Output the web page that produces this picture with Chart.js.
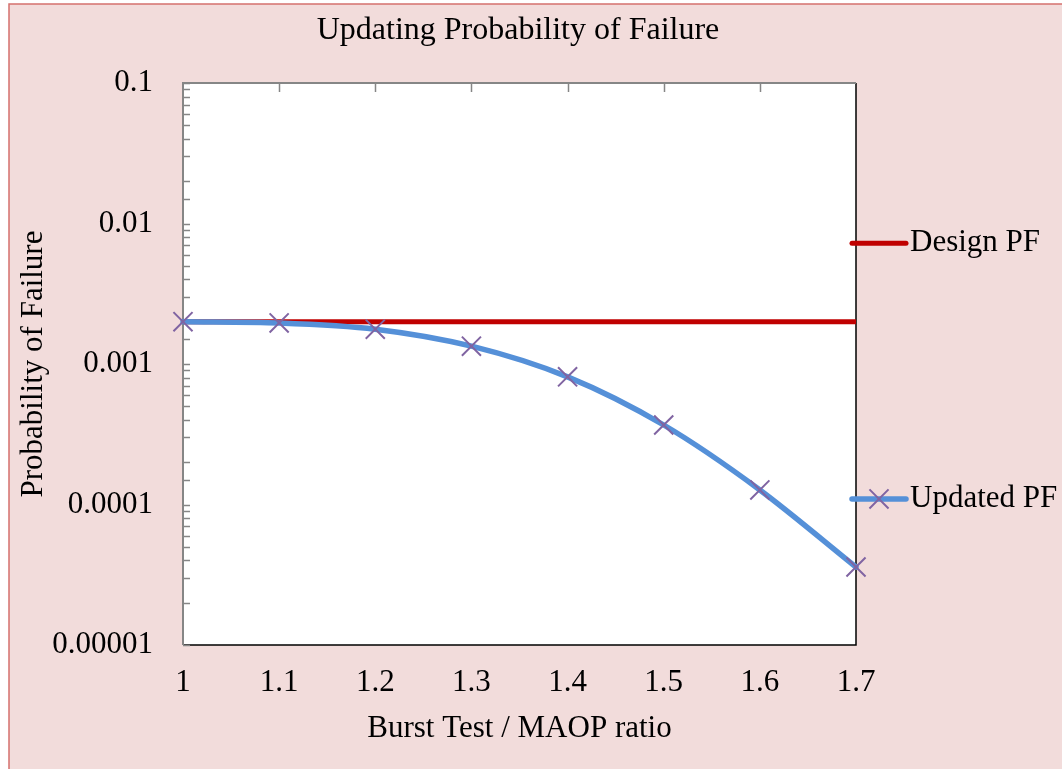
<!DOCTYPE html>
<html>
<head>
<meta charset="utf-8">
<title>Updating Probability of Failure</title>
<script src="https://cdn.jsdelivr.net/npm/chart.js@4/dist/chart.umd.min.js"></script>
<style>
    html, body { margin: 0; padding: 0; background: #ffffff; }
    #wrap { width: 1062px; height: 769px; }
</style>
</head>
<body>
<div id="wrap"><canvas id="pfChart" width="1062" height="769"></canvas></div>
<script>
// Burst test / MAOP ratio (x categories)
const ratios = ['1', '1.1', '1.2', '1.3', '1.4', '1.5', '1.6', '1.7'];
// Design probability of failure (flat)
const designPF = [0.002, 0.002, 0.002, 0.002, 0.002, 0.002, 0.002, 0.002];
// Updated probability of failure after the burst test
const updatedPF = [0.002, 0.00196, 0.00177, 0.00134, 0.00081, 0.000368, 0.000127, 0.0000359];
// Decade labels on the log axis
const yTickLabels = ['0.00001', '0.0001', '0.001', '0.01', '0.1'];
const yMin = 0.00001;
const yMax = 0.1;

const FONT = 'Liberation Serif, Times New Roman, serif';
const PINK = '#f2dcdb';
const AXIS_GREY = '#868686';

/**
 * Page background + outer chart border (Excel style)
 */
const backgroundPlugin = {
    id: 'bgFrame',
    beforeDraw(chart) {
        const ctx = chart.ctx;
        ctx.save();
        ctx.fillStyle = '#ffffff';
        ctx.fillRect(0, 0, chart.width, chart.height);
        ctx.fillStyle = PINK;
        ctx.fillRect(9, 4, chart.width, chart.height);
        ctx.strokeStyle = '#d5706d';
        ctx.lineWidth = 1.5;
        ctx.strokeRect(9, 4, chart.width + 10, chart.height + 10);
        ctx.restore();
    }
};

/**
 * Plot area: white fill, black border, grey axes with inward ticks
 */
const plotFramePlugin = {
    id: 'plotFrame',
    beforeDatasetsDraw(chart) {
        const ctx = chart.ctx;
        const { left, top, right, bottom } = chart.chartArea;
        const x = chart.scales.x;
        const y = chart.scales.y;
        ctx.save();
        ctx.fillStyle = '#ffffff';
        ctx.fillRect(left, top, right - left, bottom - top);

        ctx.strokeStyle = '#000000';
        ctx.lineWidth = 1.5;
        ctx.beginPath();
        ctx.moveTo(left, bottom);
        ctx.lineTo(right, bottom);
        ctx.lineTo(right, top);
        ctx.stroke();

        // grey value axis with minor ticks pointing in
        ctx.strokeStyle = AXIS_GREY;
        ctx.lineWidth = 1.5;
        ctx.beginPath();
        y.ticks.forEach(t => {
            const py = Math.round(y.getPixelForValue(t.value)) + 0.5;
            ctx.moveTo(left, py);
            ctx.lineTo(left + 7, py);
        });
        ctx.stroke();

        // grey category axis along the top
        ctx.beginPath();
        x.ticks.forEach((t, i) => {
            if (i === 0 || i === x.ticks.length - 1) return;
            const px = Math.round(x.getPixelForValue(i)) + 0.5;
            ctx.moveTo(px, top);
            ctx.lineTo(px, top + 9);
        });
        ctx.stroke();

        ctx.lineWidth = 2;
        ctx.beginPath();
        ctx.moveTo(left, bottom);
        ctx.lineTo(left, top);
        ctx.lineTo(right, top);
        ctx.stroke();
        ctx.restore();
    }
};

/**
 * Legend entries sitting right of the plot, like the Excel layout
 */
const sideLegendPlugin = {
    id: 'sideLegend',
    afterDraw(chart) {
        const ctx = chart.ctx;
        const area = chart.chartArea;
        const h = area.bottom - area.top;
        const rows = [area.top + h * 0.285, area.top + h * 0.74];
        ctx.save();
        chart.data.datasets.forEach(ds => {
            const yPos = rows[ds.legendRow];
            const x0 = area.right - 4;
            const x1 = area.right + 50;
            ctx.strokeStyle = ds.borderColor;
            ctx.lineWidth = ds.borderWidth;
            ctx.lineCap = 'round';
            ctx.beginPath();
            ctx.moveTo(x0, yPos);
            ctx.lineTo(x1, yPos);
            ctx.stroke();
            if (ds.pointRadius > 0) {
                // same X marker as the series
                ctx.strokeStyle = ds.pointBorderColor;
                ctx.lineWidth = ds.pointBorderWidth;
                ctx.lineCap = 'butt';
                const r = ds.pointRadius * Math.SQRT1_2;
                const cx = (x0 + x1) / 2;
                ctx.beginPath();
                ctx.moveTo(cx - r, yPos - r);
                ctx.lineTo(cx + r, yPos + r);
                ctx.moveTo(cx - r, yPos + r);
                ctx.lineTo(cx + r, yPos - r);
                ctx.stroke();
            }
            ctx.fillStyle = '#000000';
            ctx.font = '31px ' + FONT;
            ctx.textAlign = 'left';
            ctx.textBaseline = 'middle';
            ctx.fillText(ds.label, x1 + 4, yPos);
        });
        ctx.restore();
    }
};

const ctx = document.getElementById('pfChart');

const pfChart = new Chart(ctx, {
    type: 'line',
    data: {
        labels: ratios,
        datasets: [
            {
                label: 'Design PF',
                data: designPF,
                borderColor: '#c00000',
                borderWidth: 5,
                pointRadius: 0,
                tension: 0,
                order: 1,
                legendRow: 0
            },
            {
                label: 'Updated PF',
                data: updatedPF,
                borderColor: '#5590d8',
                borderWidth: 5.5,
                borderCapStyle: 'round',
                tension: 0.3,
                pointStyle: 'crossRot',
                pointRadius: 13.5,
                pointBorderColor: '#8064a2',
                pointBorderWidth: 2,
                pointBackgroundColor: 'transparent',
                clip: false,
                order: 0,
                legendRow: 1
            }
        ]
    },
    options: {
        responsive: false,
        animation: false,
        events: [],
        layout: {
            padding: { left: 0, right: 26, top: 0, bottom: 0 }
        },
        plugins: {
            legend: { display: false },
            tooltip: { enabled: false },
            title: {
                display: true,
                text: 'Updating Probability of Failure',
                color: '#000000',
                font: { family: FONT, size: 32, weight: 'normal' },
                padding: { top: 11, bottom: 33.6 }
            }
        },
        scales: {
            x: {
                type: 'category',
                offset: false,
                grid: { display: false, drawTicks: false },
                border: { display: false },
                ticks: {
                    color: '#000000',
                    font: { family: FONT, size: 31 },
                    padding: 19,
                    autoSkip: false,
                    maxRotation: 0
                },
                title: {
                    display: true,
                    text: 'Burst Test / MAOP ratio',
                    color: '#000000',
                    font: { family: FONT, size: 31 },
                    padding: { top: 22, bottom: 22 }
                },
                afterFit(scale) { scale.height = 124; }
            },
            y: {
                type: 'logarithmic',
                min: yMin,
                max: yMax,
                grid: { display: false, drawTicks: false },
                border: { display: false },
                ticks: {
                    color: '#000000',
                    font: { family: FONT, size: 31 },
                    padding: 30,
                    autoSkip: false,
                    callback(value) {
                        const e = Math.log10(value / yMin);
                        const idx = Math.round(e);
                        if (Math.abs(e - idx) < 1e-6) return yTickLabels[idx];
                        return '';
                    }
                },
                title: {
                    display: true,
                    text: 'Probability of Failure',
                    color: '#000000',
                    font: { family: FONT, size: 31 },
                    padding: { top: 15, bottom: 15 }
                },
                afterFit(scale) { scale.width = 183; }
            },
            // empty right-hand scale that reserves room for the side legend
            legendSpace: {
                type: 'linear',
                position: 'right',
                display: true,
                grid: { display: false, drawTicks: false },
                border: { display: false },
                ticks: { display: false },
                afterFit(scale) { scale.width = 180; }
            }
        }
    },
    plugins: [backgroundPlugin, plotFramePlugin, sideLegendPlugin]
});
</script>
</body>
</html>
